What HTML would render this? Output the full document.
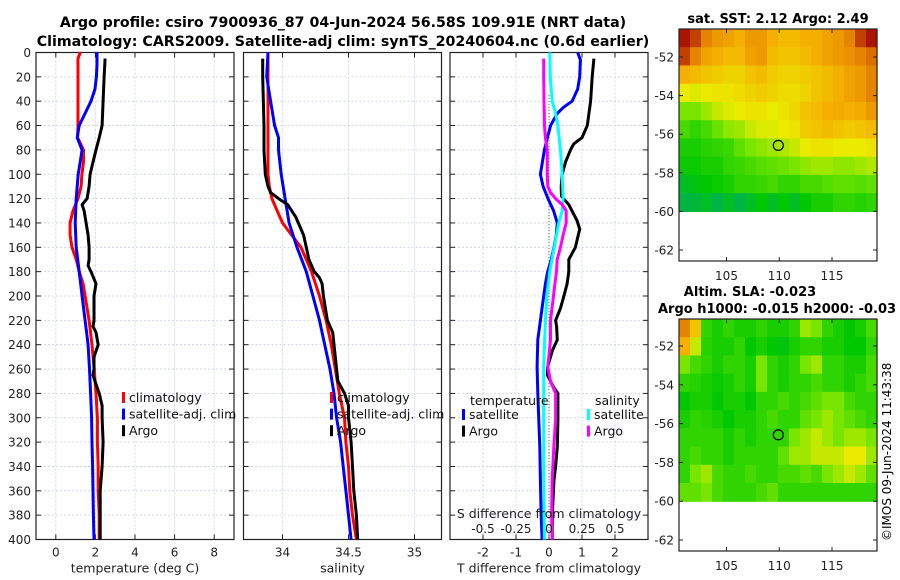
<!DOCTYPE html>
<html><head><meta charset="utf-8"><style>
body{margin:0;background:#fff;}
svg{display:block;font-family:"DejaVu Sans","Liberation Sans",sans-serif;}
</style></head><body>
<svg id="c" width="900" height="580" viewBox="0 0 900 580" xmlns="http://www.w3.org/2000/svg">
<text x="343" y="27" text-anchor="middle" font-size="14.2" font-weight="bold">Argo profile: csiro 7900936_87 04-Jun-2024 56.58S 109.91E (NRT data)</text>
<text x="343" y="46" text-anchor="middle" font-size="14.2" font-weight="bold">Climatology: CARS2009. Satellite-adj clim: synTS_20240604.nc (0.6d earlier)</text>
<text x="778" y="23" text-anchor="middle" font-size="13" font-weight="bold">sat. SST: 2.12 Argo: 2.49</text>
<text x="750" y="296" text-anchor="middle" font-size="13" font-weight="bold">Altim. SLA: -0.023</text>
<text x="658" y="313" font-size="13" font-weight="bold">Argo h1000: -0.015 h2000: -0.03</text>
<text transform="translate(891,541) rotate(-90)" font-size="12">©IMOS 09-Jun-2024 11:43:38</text>
</svg>
<script>
// ---------- data ----------
const depthTicks=[0,20,40,60,80,100,120,140,160,180,200,220,240,260,280,300,320,340,360,380,400];
const climTDepth=[0,5,20,40,60,70,80,90,100,110,120,130,140,150,160,170,180,190,200,220,240,260,280,300,320,340,360,380,400];
const climT=[1.23,1.12,1.12,1.12,1.12,1.1,1.4,1.4,1.32,1.28,1.12,0.87,0.72,0.72,0.82,1.03,1.18,1.38,1.48,1.68,1.83,1.94,2.03,2.1,2.1,2.14,2.14,2.19,2.19];
const satTDepth=[0,10,20,30,40,50,60,70,80,90,100,120,140,160,180,200,220,240,260,280,300,320,340,360,380,400];
const satT=[2.08,2.08,2.05,1.98,1.78,1.48,1.18,1.08,1.33,1.23,1.13,1.03,0.98,1.03,1.18,1.33,1.48,1.63,1.7,1.76,1.81,1.83,1.86,1.88,1.9,1.93];
const argoTDepth=[5,20,40,60,70,80,90,100,110,120,125,130,140,150,160,170,175,180,190,200,220,225,230,240,250,260,265,270,280,290,300,320,340,360,380,400];
const argoT=[2.49,2.44,2.39,2.34,2.19,2.03,1.88,1.73,1.68,1.58,1.33,1.43,1.53,1.63,1.68,1.68,1.63,1.78,2.03,1.93,1.93,1.88,2.03,2.14,1.93,1.93,1.88,1.98,2.19,2.34,2.34,2.39,2.34,2.24,2.24,2.24];
const climSDepth=[0,20,40,60,80,100,110,120,130,140,150,160,170,180,190,200,220,240,260,280,300,320,340,360,380,400];
const climS=[33.89,33.89,33.89,33.89,33.89,33.89,33.90,33.92,33.96,34.00,34.07,34.14,34.18,34.22,34.25,34.28,34.33,34.37,34.40,34.43,34.47,34.48,34.50,34.51,34.53,34.56];
const satSDepth=[0,20,40,60,70,80,100,120,140,160,180,200,220,240,260,280,300,320,340,360,380,400];
const satS=[33.89,33.88,33.91,33.94,33.97,33.97,33.99,34.02,34.05,34.11,34.18,34.23,34.28,34.32,34.36,34.39,34.41,34.44,34.46,34.48,34.50,34.52];
const argoSDepth=[5,20,60,80,100,110,115,120,125,130,135,140,150,160,170,180,185,190,200,220,230,240,260,270,280,290,300,310,320,340,360,380,400];
const argoS=[33.85,33.85,33.86,33.86,33.87,33.89,33.91,33.97,34.04,34.07,34.10,34.12,34.16,34.18,34.20,34.24,34.28,34.30,34.31,34.34,34.38,34.39,34.41,34.42,34.47,34.50,34.50,34.51,34.52,34.53,34.54,34.56,34.57];
const dSatTDepth=[0,6,20,30,40,45,50,60,70,80,90,100,110,120,130,140,150,160,170,180,190,200,220,236,258,280,302,324,351,379,400];
const dSatT=[0.87,0.95,0.93,0.87,0.70,0.44,0.25,0.05,-0.05,-0.14,-0.2,-0.26,-0.18,-0.03,0.14,0.25,0.22,0.15,0.07,-0.04,-0.11,-0.16,-0.26,-0.34,-0.36,-0.34,-0.31,-0.28,-0.26,-0.24,-0.21];
const dArgoTDepth=[5,20,40,60,70,75,80,90,100,110,118,125,138,145,160,170,180,190,200,210,220,225,236,245,258,265,275,280,302,324,340,351,379,400];
const dArgoT=[1.36,1.31,1.26,1.16,1.0,0.75,0.65,0.5,0.4,0.37,0.38,0.6,0.85,0.93,0.8,0.6,0.6,0.55,0.45,0.35,0.2,0.23,0.25,0.1,-0.04,-0.05,0.14,0.27,0.27,0.25,0.2,0.15,0.1,0.1];
const dSatSDepth=[0,20,40,50,60,80,100,120,130,140,160,180,200,220,258,300,351,400];
const dSatS=[0.006,0.01,0.024,0.05,0.067,0.087,0.1,0.107,0.1,0.074,0.04,0.005,-0.016,-0.027,-0.04,-0.04,-0.04,-0.034];
const dArgoSDepth=[5,20,40,60,70,80,100,110,115,120,125,130,140,150,160,170,180,190,200,220,236,258,270,280,302,324,351,379,400];
const dArgoS=[-0.04,-0.04,-0.038,-0.034,-0.027,-0.014,-0.014,-0.009,0.011,0.05,0.1,0.13,0.13,0.107,0.087,0.062,0.057,0.045,0.034,0.011,0.011,-0.009,0.011,0.05,0.05,0.036,0.024,0.02,0.024];
const tempTicks=[0,2,4,6,8];
const salTicks=[34,34.5,35];
const salTickLabels=["34","34.5","35"];
const tdTicks=[-2,-1,0,1,2];
const sdTicks=[-0.5,-0.25,0,0.25,0.5];
const sdTickLabels=["-0.5","-0.25","0","0.25","0.5"];
const latTicks=[-52,-54,-56,-58,-60,-62];
const lonTicks=[105,110,115];
const argoLon=109.91, argoLat=-56.58;
const sstGrid=[
[1.0,0.95,0.85,0.8,0.78,0.75,0.8,0.8,0.75,0.72,0.72,0.75,0.75,0.78,0.8,0.85,0.95,1.0],
[0.95,0.85,0.78,0.75,0.72,0.72,0.78,0.8,0.72,0.7,0.7,0.72,0.75,0.78,0.8,0.82,0.85,0.9],
[0.75,0.72,0.7,0.68,0.66,0.66,0.7,0.72,0.68,0.66,0.66,0.68,0.7,0.72,0.75,0.78,0.8,0.85],
[0.6,0.58,0.6,0.62,0.62,0.64,0.66,0.68,0.66,0.64,0.64,0.66,0.7,0.72,0.75,0.78,0.8,0.85],
[0.45,0.45,0.5,0.55,0.58,0.6,0.62,0.62,0.6,0.62,0.65,0.7,0.72,0.75,0.76,0.75,0.76,0.8],
[0.35,0.3,0.35,0.42,0.48,0.5,0.55,0.58,0.58,0.6,0.62,0.68,0.7,0.72,0.7,0.68,0.7,0.72],
[0.25,0.25,0.28,0.3,0.32,0.4,0.45,0.48,0.5,0.52,0.55,0.6,0.62,0.62,0.6,0.6,0.6,0.62],
[0.22,0.22,0.25,0.25,0.3,0.32,0.35,0.38,0.4,0.42,0.45,0.48,0.5,0.5,0.48,0.48,0.5,0.52],
[0.15,0.18,0.2,0.22,0.25,0.3,0.3,0.32,0.35,0.3,0.3,0.35,0.35,0.38,0.4,0.4,0.38,0.4],
[0.1,0.12,0.15,0.1,0.15,0.1,0.15,0.2,0.15,0.2,0.15,0.2,0.25,0.25,0.3,0.3,0.28,0.3]];
const slaGrid=[
[0.85,0.7,0.3,0.25,0.3,0.25,0.25,0.3,0.25,0.25,0.3,0.5,0.45,0.3,0.25,0.2,0.25,0.35],
[0.75,0.55,0.28,0.25,0.25,0.3,0.2,0.25,0.2,0.18,0.25,0.3,0.3,0.25,0.25,0.2,0.2,0.3],
[0.45,0.35,0.3,0.25,0.3,0.3,0.25,0.45,0.3,0.25,0.3,0.45,0.5,0.3,0.3,0.25,0.25,0.35],
[0.3,0.28,0.25,0.22,0.25,0.3,0.25,0.45,0.3,0.25,0.3,0.3,0.35,0.3,0.3,0.25,0.3,0.35],
[0.2,0.25,0.25,0.2,0.25,0.25,0.2,0.3,0.3,0.35,0.3,0.35,0.4,0.45,0.45,0.35,0.3,0.3],
[0.25,0.3,0.28,0.25,0.2,0.25,0.25,0.3,0.35,0.3,0.3,0.4,0.45,0.5,0.45,0.4,0.35,0.3],
[0.3,0.3,0.3,0.3,0.25,0.3,0.25,0.3,0.3,0.3,0.45,0.5,0.55,0.5,0.45,0.5,0.5,0.45],
[0.3,0.35,0.3,0.3,0.25,0.3,0.3,0.3,0.3,0.4,0.5,0.5,0.55,0.55,0.55,0.6,0.6,0.5],
[0.3,0.45,0.5,0.35,0.3,0.3,0.35,0.3,0.3,0.35,0.35,0.4,0.35,0.45,0.5,0.55,0.5,0.4],
[0.4,0.4,0.45,0.35,0.3,0.3,0.3,0.35,0.4,0.3,0.3,0.3,0.3,0.3,0.3,0.3,0.3,0.3]];

// ---------- drawing ----------
const svg=document.getElementById('c');
const NS='http://www.w3.org/2000/svg';
function mk(tag,attrs,parent){const e=document.createElementNS(NS,tag);for(const k in attrs)e.setAttribute(k,attrs[k]);(parent||svg).appendChild(e);return e;}
const PT=52.5,PB=539.5;
const yD=d=>PT+(d/400)*(PB-PT);
function lin(d0,d1,r0,r1){return v=>r0+(v-d0)/(d1-d0)*(r1-r0);}

function panel(name,x0,x1,xScale,xt,xtl,xlabel){
  const g=mk('g',{});
  
  
  depthTicks.forEach(d=>{
    const l=mk('line',{x1:x0,x2:x1,y1:yD(d),y2:yD(d),stroke:'#c8cde8','stroke-width':0.8,'stroke-dasharray':'2,2'},g);
    
    
    mk('line',{x1:x0,x2:x0+5,y1:yD(d),y2:yD(d),stroke:'#222'},g);
    mk('line',{x1:x1-5,x2:x1,y1:yD(d),y2:yD(d),stroke:'#222'},g);
  });
  xt.forEach((v,i)=>{
    const x=xScale(v);
    mk('line',{x1:x,x2:x,y1:PT,y2:PB,stroke:'#c8cde8','stroke-width':0.8,'stroke-dasharray':'2,2'},g);
    mk('line',{x1:x,x2:x,y1:PB-5,y2:PB,stroke:'#222'},g);
    mk('line',{x1:x,x2:x,y1:PT,y2:PT+5,stroke:'#222'},g);
    const t=mk('text',{x:x,y:PB+17,'text-anchor':'middle','font-size':12,fill:'#222'},g);
    
    
    t.textContent=xtl[i];
  });
  const xl=mk('text',{x:(x0+x1)/2,y:PB+33,'text-anchor':'middle','font-size':12.5,fill:'#222'},g);
  
  
  xl.textContent=xlabel;
  const fr=mk('rect',{x:x0,y:PT,width:x1-x0,height:PB-PT,fill:'none',stroke:'#222','stroke-width':1.2},g);
  
  
  return g;
}
function series(g,name,depths,vals,xs,color){
  const p=depths.map((d,i)=>xs(vals[i]).toFixed(1)+','+yD(d).toFixed(1)).join(' ');
  const l=mk('polyline',{points:p,fill:'none',stroke:color,'stroke-width':3,'stroke-linejoin':'round'},g);
  
  
}
function legend(g,x,y,items){
  items.forEach((it,i)=>{
    const yy=y+i*16.6;
    mk('rect',{x:x,y:yy-9,width:3,height:11,fill:it[1]},g);
    const t=mk('text',{x:x+7,y:yy+1,'font-size':12.5,fill:'#111'},g);
    
    
    t.textContent=it[0];
  });
}
// y tick labels
depthTicks.forEach(d=>{
  const t=mk('text',{x:31,y:yD(d)+4.5,'text-anchor':'end','font-size':12,fill:'#222'});
  
  
  t.textContent=d;
});
// panel 1 temperature
const xT=lin(-1,9,36,234);
const g1=panel('temperature-panel',36,234,xT,tempTicks,tempTicks.map(String),'temperature (deg C)');
series(g1,'climatology-temp-line',climTDepth,climT,xT,'#f00');
series(g1,'satellite-temp-line',satTDepth,satT,xT,'#00f');
series(g1,'argo-temp-line',argoTDepth,argoT,xT,'#000');
legend(g1,122,401,[['climatology','#f00'],['satellite-adj. clim','#00f'],['Argo','#000']]);
// panel 2 salinity
const xS=lin(34,35,282.5,414.5);
const g2=panel('salinity-panel',243.5,441.5,xS,salTicks,salTickLabels,'salinity');
series(g2,'climatology-sal-line',climSDepth,climS,xS,'#f00');
series(g2,'satellite-sal-line',satSDepth,satS,xS,'#00f');
series(g2,'argo-sal-line',argoSDepth,argoS,xS,'#000');
legend(g2,330,401,[['climatology','#f00'],['satellite-adj. clim','#00f'],['Argo','#000']]);
// panel 3 differences
const xTD=lin(-3,3,450,648);
const xSD=lin(-0.75,0.75,450,648);
const g3=panel('difference-panel',450,648,xTD,tdTicks,tdTicks.map(String),'T difference from climatology');
mk('line',{x1:xTD(0),x2:xTD(0),y1:yD(35),y2:PB,stroke:'#555','stroke-width':1,'stroke-dasharray':'1,2'},g3);
series(g3,'satellite-tdiff-line',dSatTDepth,dSatT,xTD,'#00f');
series(g3,'argo-tdiff-line',dArgoTDepth,dArgoT,xTD,'#000');
series(g3,'satellite-sdiff-line',dSatSDepth,dSatS,xSD,'#0ff');
series(g3,'argo-sdiff-line',dArgoSDepth,dArgoS,xSD,'#f0f');
sdTicks.forEach((v,i)=>{
  const t=mk('text',{x:xSD(v),y:533,'text-anchor':'middle','font-size':12,fill:'#222'},g3);
  
  
  t.textContent=sdTickLabels[i];
});
const st=mk('text',{x:549,y:518,'text-anchor':'middle','font-size':12.5,fill:'#222'},g3);


st.textContent='S difference from climatology';
const th=mk('text',{x:470,y:405,'font-size':12.5,fill:'#111'},g3);


th.textContent='temperature';
const sh=mk('text',{x:595,y:405,'font-size':12.5,fill:'#111'},g3);


sh.textContent='salinity';
legend(g3,462,418,[['satellite','#00f'],['Argo','#000']]);
legend(g3,587,418,[['satellite','#0ff'],['Argo','#f0f']]);

// maps
const stops=[[0,[0,160,140]],[0.2,[0,200,0]],[0.45,[120,230,0]],[0.6,[235,235,0]],[0.75,[245,175,0]],[0.9,[220,110,0]],[1,[170,20,0]]];
function cmap(v){for(let i=1;i<stops.length;i++){if(v<=stops[i][0]){const a=stops[i-1],b=stops[i],f=(v-a[0])/(b[0]-a[0]);const c=a[1].map((q,k)=>Math.round(q+(b[1][k]-q)*f));return 'rgb('+c.join(',')+')';}}return 'rgb(170,20,0)';}
function map(name,grid,top,bot,lat52y,lat62y){
  const L=679,R=877;
  const xL=lin(105,115,726.5,832);
  const yL=lin(-52,-62,lat52y,lat62y);
  const g=mk('g',{});
  
  
  const rows=grid.length,cols=grid[0].length;
  const y60=yL(-60),cw=(R-L)/cols,ch=(y60-top)/rows;
  grid.forEach((row,r)=>row.forEach((v,c)=>{
    const cell=mk('rect',{x:(L+c*cw).toFixed(2),y:(top+r*ch).toFixed(2),width:(cw+0.6).toFixed(2),height:(ch+0.6).toFixed(2),fill:cmap(v)},g);
    
    
  }));
  mk('rect',{x:L,y:top,width:R-L,height:bot-top,fill:'none',stroke:'#222','stroke-width':1.2},g);
  latTicks.forEach(v=>{
    const y=yL(v);
    mk('line',{x1:L,x2:L+4,y1:y,y2:y,stroke:'#222'},g);
    mk('line',{x1:R-4,x2:R,y1:y,y2:y,stroke:'#222'},g);
    const t=mk('text',{x:674,y:y+4.5,'text-anchor':'end','font-size':12,fill:'#222'},g);
    
    
    t.textContent=v;
  });
  lonTicks.forEach(v=>{
    const x=xL(v);
    mk('line',{x1:x,x2:x,y1:bot-4,y2:bot,stroke:'#222'},g);
    mk('line',{x1:x,x2:x,y1:top,y2:top+4,stroke:'#222'},g);
    const t=mk('text',{x:x,y:bot+19,'text-anchor':'middle','font-size':12,fill:'#222'},g);
    
    
    t.textContent=v;
  });
  const m=mk('circle',{cx:xL(argoLon),cy:yL(argoLat),r:5,fill:'none',stroke:'#000','stroke-width':1.2},g);
  
  
}
map('sst-map',sstGrid,29,261,57,250);
map('sla-map',slaGrid,319,551,346,540);
</script>
</body></html>
